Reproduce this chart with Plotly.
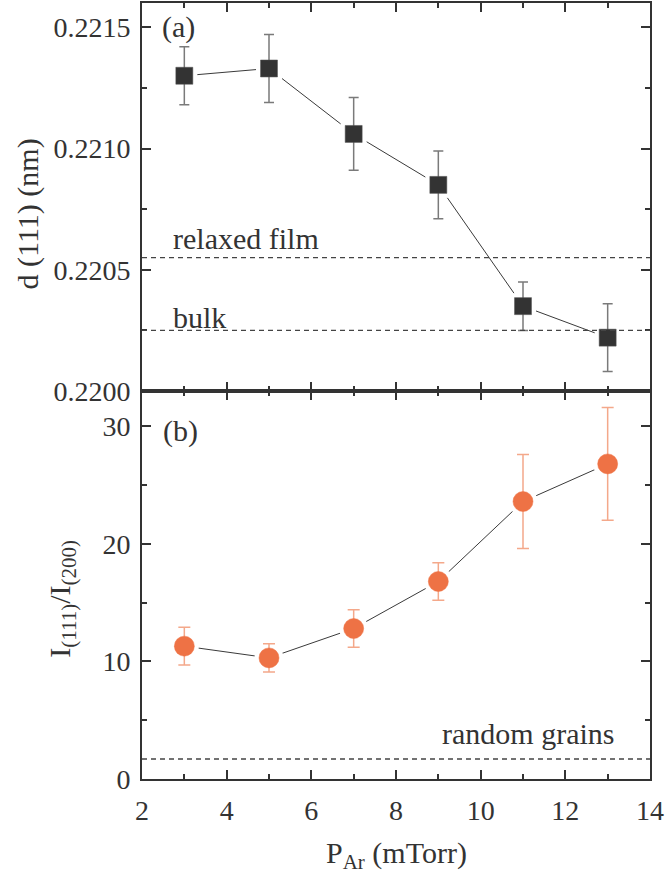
import plotly.graph_objects as go
from plotly.subplots import make_subplots

# Argon pressure (mTorr)
pressure = [3, 5, 7, 9, 11, 13]

# (a) d(111) spacing (nm) and its uncertainty
d111 = [0.22130, 0.22133, 0.22106, 0.22085, 0.22035, 0.22022]
d111_err = [0.00012, 0.00014, 0.00015, 0.00014, 0.00010, 0.00014]

# (b) texture ratio I(111)/I(200) and its uncertainty
ratio = [11.3, 10.3, 12.8, 16.8, 23.6, 26.8]
ratio_err = [1.6, 1.2, 1.6, 1.6, 4.0, 4.8]

# reference levels
d_relaxed = 0.22055
d_bulk = 0.22025
ratio_random = 1.7

# axis ticks
x_ticks = [2, 4, 6, 8, 10, 12, 14]

FONT = "Liberation Serif, Times New Roman, Times, serif"
INK = "#333333"
ORANGE = "#EE7245"
ORANGE_LIGHT = "#F4A88A"

fig = make_subplots(rows=2, cols=1, shared_xaxes=True, vertical_spacing=0)

# connecting lines
fig.add_trace(go.Scatter(x=pressure, y=d111, mode="lines",
                         line=dict(color="#3a3a3a", width=1)), row=1, col=1)
fig.add_trace(go.Scatter(x=pressure, y=ratio, mode="lines",
                         line=dict(color="#3a3a3a", width=1)), row=2, col=1)

# white halos to leave a small gap between line and symbol
fig.add_trace(go.Scatter(x=pressure, y=d111, mode="markers",
                         marker=dict(symbol="square", size=26, color="white")), row=1, col=1)
fig.add_trace(go.Scatter(x=pressure, y=ratio, mode="markers",
                         marker=dict(symbol="circle", size=29, color="white")), row=2, col=1)

# symbols with error bars
fig.add_trace(go.Scatter(
    x=pressure, y=d111, mode="markers",
    marker=dict(symbol="square", size=17, color="#333333",
                line=dict(color="#555555", width=0.5)),
    error_y=dict(type="data", array=d111_err, color="#7a7a7a", thickness=1.5, width=5),
), row=1, col=1)
fig.add_trace(go.Scatter(
    x=pressure, y=ratio, mode="markers",
    marker=dict(symbol="circle", size=20, color=ORANGE,
                line=dict(color=ORANGE, width=0.5)),
    error_y=dict(type="data", array=ratio_err, color=ORANGE_LIGHT, thickness=1.5, width=6),
), row=2, col=1)

# dashed reference lines across each panel
for yv, xr, yr in [(d_relaxed, "x domain", "y"), (d_bulk, "x domain", "y"),
                   (ratio_random, "x2 domain", "y2")]:
    fig.add_shape(type="line", xref=xr, yref=yr, x0=0, x1=1, y0=yv, y1=yv,
                  line=dict(color="#444444", width=1.3, dash="5px,4px"))

axis_common = dict(
    showline=True, linecolor=INK, linewidth=2, mirror="allticks",
    ticks="inside", ticklen=9, tickwidth=2, tickcolor=INK,
    showgrid=False, zeroline=False,
    tickfont=dict(family=FONT, size=28, color=INK),
)

fig.update_xaxes(range=[2, 14], tickmode="array", tickvals=x_ticks,
                 ticktext=[str(v) for v in x_ticks],
                 minor=dict(ticks="inside", ticklen=5, tickwidth=2, tickcolor=INK, dtick=1),
                 **axis_common)
fig.update_xaxes(showticklabels=False, row=1, col=1)
fig.update_xaxes(ticklabelstandoff=5, ticklabeloverflow="allow", row=2, col=1)

fig.update_yaxes(range=[0.2200, 0.2216], dtick=0.0005, tick0=0.2200, tickformat=".4f",
                 minor=dict(ticks="inside", ticklen=5, tickwidth=2, tickcolor=INK, dtick=0.00025),
                 row=1, col=1, **axis_common)
fig.update_yaxes(range=[0, 33], dtick=10, tick0=0,
                 minor=dict(ticks="inside", ticklen=5, tickwidth=2, tickcolor=INK, dtick=5),
                 row=2, col=1, **axis_common)
fig.update_yaxes(ticklabelstandoff=4)

txt = dict(family=FONT, size=30, color=INK)
annotations = [
    dict(text="(a)", x=2.42, y=0.2215, xref="x", yref="y", xanchor="left", yanchor="middle"),
    dict(text="(b)", x=2.46, y=29.6, xref="x2", yref="y2", xanchor="left", yanchor="middle"),
    dict(text="relaxed film", x=2.68, y=0.220628, xref="x", yref="y", xanchor="left", yanchor="middle"),
    dict(text="bulk", x=2.68, y=0.220305, xref="x", yref="y", xanchor="left", yanchor="middle"),
    dict(text="random grains", x=13.2, y=3.9, xref="x2", yref="y2", xanchor="right", yanchor="middle"),
    dict(text="d (111) (nm)", x=-0.2245, y=0.7288, xref="paper", yref="paper",
         textangle=-90, xanchor="center", yanchor="middle"),
    dict(text="I<sub>(111)</sub>/I<sub>(200)</sub>", x=-0.158, y=0.232, xref="paper", yref="paper",
         textangle=-90, xanchor="center", yanchor="middle"),
    dict(text="P<sub>Ar</sub> (mTorr)", x=0.500, y=-0.098, xref="paper", yref="paper",
         xanchor="center", yanchor="middle"),
]
for a in annotations:
    a.update(showarrow=False, font=txt)

fig.update_layout(
    width=665, height=873,
    margin=dict(l=142, r=13, t=1, b=94),
    paper_bgcolor="white", plot_bgcolor="white",
    showlegend=False,
    annotations=annotations,
)

fig.write_html("out.html")
